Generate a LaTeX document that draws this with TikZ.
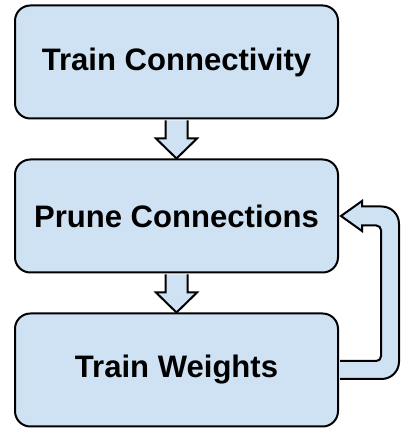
\documentclass[tikz,border=0pt]{standalone}
\usepackage{fontspec}
\setsansfont{Liberation Sans}
\usepackage{tikz}
\usetikzlibrary{positioning, calc}
\definecolor{boxblue}{HTML}{CFE2F3}

\begin{document}
\begin{tikzpicture}[x=0.75pt, y=0.75pt,
  stagebox/.style={draw=black, fill=boxblue, line width=1.5pt, rounded corners=11.5pt,
    minimum width=242.25pt, minimum height=84.75pt, align=center,
    font=\sffamily\bfseries\fontsize{23.3}{28}\selectfont},
  flowarrow/.style={draw=black, fill=boxblue, line width=1.5pt, line join=miter}]
\useasboundingbox (0,0) rectangle (405,432);
\node[stagebox] (conn) at (176.5,370) {Train Connectivity};
\node[stagebox, below=29.25pt of conn] (prune) {Prune Connections};
\node[stagebox, below=29.25pt of prune] (weights) {Train Weights};
% block arrows between stages
\draw[flowarrow] ($(conn.south)+(-11,-1)$) -- ++(0,-18) -- ++(-9.5,0) -- (prune.north)
  -- ($(conn.south)+(20.5,-19)$) -- ++(-9.5,0) -- ($(conn.south)+(11,-1)$);
\draw[flowarrow] ($(prune.south)+(-11,-1)$) -- ++(0,-18) -- ++(-9.5,0) -- (weights.north)
  -- ($(prune.south)+(20.5,-19)$) -- ++(-9.5,0) -- ($(prune.south)+(11,-1)$);
% feedback loop
\draw[flowarrow] ($(weights.east)+(1,9)$) [rounded corners=3.5pt] -- ($(weights.east)+(42,9)$)
  -- ($(prune.east)+(42,-9.5)$) [sharp corners] -- ($(prune.east)+(23,-9.5)$) -- ++(0,-5.5)
  -- ($(prune.east)+(2,0)$) -- ($(prune.east)+(23,15)$) -- ++(0,-5.5)
  [rounded corners=13pt] -- ($(prune.east)+(60,9.5)$) -- ($(weights.east)+(60,-9)$)
  [sharp corners] -- ($(weights.east)+(1,-9)$);
\end{tikzpicture}
\end{document}
